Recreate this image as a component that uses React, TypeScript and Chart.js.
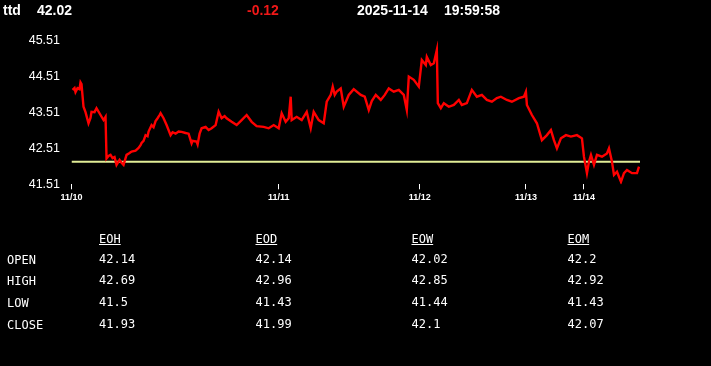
import React, { useEffect, useRef } from "react";
import { Chart, registerables } from "chart.js";

Chart.register(...registerables);

// ---- Data ----
const symbol = "ttd";
const lastPrice = "42.02";
const change = "-0.12";
const dateText = "2025-11-14";
const timeText = "19:59:58";

// bar index (time position) and price
const priceBars = [
  1, 3, 4, 6, 8, 9, 10, 12, 14, 17, 19, 20, 23, 25, 29, 32, 34, 35, 37, 39, 41, 43, 45, 48, 50, 52, 55, 58, 60, 64, 67,
  69, 70, 72, 74, 76, 77, 80, 82, 84, 86, 88, 89, 92, 95, 99, 101, 104, 107, 110, 114, 117, 120, 121, 123, 125, 126,
  128, 130, 134, 137, 140, 144, 147, 150, 153, 155, 160, 165, 170, 175, 180, 185, 192, 197, 202, 207, 210, 214, 217,
  219, 220, 225, 230, 235, 239, 242, 247, 252, 255, 259, 261, 263, 265, 269, 272, 277, 282, 289, 293, 297, 300, 304,
  309, 313, 317, 322, 327, 332, 335, 337, 342, 347, 350, 354, 355, 359, 362, 365, 366, 369, 372, 377, 382, 387, 390,
  395, 400, 405, 410, 415, 420, 425, 429, 435, 440, 447, 452, 454, 455, 460, 465, 470, 475, 479, 482, 485, 489, 494,
  499, 505, 510, 512, 515, 517, 519, 522, 525, 530, 535, 537, 540, 542, 545, 549, 552, 555, 560, 565, 567,
];
const priceValues = [
  44.14, 44.19, 44.08, 44.19, 44.16, 44.35, 44.3, 43.67, 43.52, 43.21, 43.36, 43.53, 43.52, 43.63, 43.44, 43.3, 43.39,
  42.23, 42.3, 42.33, 42.24, 42.27, 42.05, 42.19, 42.11, 42.05, 42.33, 42.38, 42.42, 42.45, 42.52, 42.6, 42.66, 42.72,
  42.88, 42.85, 42.98, 43.16, 43.1, 43.27, 43.35, 43.44, 43.49, 43.35, 43.16, 42.88, 42.96, 42.92, 42.98, 42.97, 42.94,
  42.92, 42.65, 42.72, 42.71, 42.7, 42.62, 42.92, 43.07, 43.11, 43.02, 43.07, 43.16, 43.53, 43.35, 43.41, 43.35, 43.25,
  43.16, 43.3, 43.44, 43.25, 43.13, 43.11, 43.07, 43.16, 43.07, 43.49, 43.25, 43.35, 43.95, 43.3, 43.39, 43.3, 43.53,
  43.07, 43.53, 43.3, 43.21, 43.81, 44.0, 44.23, 44.0, 44.09, 44.18, 43.67, 44.0, 44.16, 44.0, 43.95, 43.58, 43.83,
  44.0, 43.86, 44.0, 44.18, 44.09, 44.14, 44.0, 43.58, 44.51, 44.42, 44.23, 44.97, 44.83, 45.06, 44.83, 44.88, 45.25,
  43.77, 43.63, 43.77, 43.67, 43.72, 43.86, 43.72, 43.77, 44.14, 43.95, 44.0, 43.86, 43.81, 43.91, 43.95, 43.86, 43.81,
  43.91, 43.95, 44.09, 43.72, 43.44, 43.21, 42.74, 42.88, 43.02, 42.74, 42.51, 42.79, 42.88, 42.84, 42.88, 42.79, 42.28,
  41.82, 42.14, 42.33, 42.05, 42.33, 42.28, 42.37, 42.51, 42.14, 41.77, 41.86, 41.58, 41.82, 41.91, 41.82, 41.82, 42.0,
];

const referencePrice = 42.14;
const xMaxBar = 568;
const dayTickBars = [0, 207, 348, 454, 512];
const dayTickLabels = ["11/10", "11/11", "11/12", "11/13", "11/14"];
const yTickValues = [41.51, 42.51, 43.51, 44.51, 45.51];

const tableColumns = ["EOH", "EOD", "EOW", "EOM"];
const tableRows = ["OPEN", "HIGH", "LOW", "CLOSE"];
const eohValues = ["42.14", "42.69", "41.5", "41.93"];
const eodValues = ["42.14", "42.96", "41.43", "41.99"];
const eowValues = ["42.02", "42.85", "41.44", "42.1"];
const eomValues = ["42.2", "42.92", "41.43", "42.07"];

const columnValues = [eohValues, eodValues, eowValues, eomValues];

// ---- Layout ----
const columnX = [99, 255.5, 411.5, 567.5];
const rowCenters = [258.5, 280, 302, 324];
const headerRowCenter = 238.5;

const monoFont = "'DejaVu Sans Mono', 'Liberation Mono', monospace";

export default function App() {
  const canvasRef = useRef<HTMLCanvasElement | null>(null);

  useEffect(() => {
    if (!canvasRef.current) return;
    const linePoints = priceBars.map((b, i) => ({ x: b, y: priceValues[i] }));
    const refPoints = [
      { x: 0, y: referencePrice },
      { x: xMaxBar, y: referencePrice },
    ];
    const chart = new Chart(canvasRef.current, {
      type: "line",
      data: {
        datasets: [
          {
            data: linePoints,
            borderColor: "#ff0000",
            borderWidth: 2.4,
            pointRadius: 0,
            tension: 0,
          },
          {
            data: refPoints,
            borderColor: "rgb(225,236,150)",
            borderWidth: 2,
            pointRadius: 0,
            tension: 0,
          },
        ],
      },
      options: {
        animation: false,
        responsive: false,
        devicePixelRatio: 1,
        layout: { padding: { left: 0, top: 40.7, right: 71, bottom: 366 - 184.3 - 20 } },
        plugins: { legend: { display: false }, tooltip: { enabled: false } },
        scales: {
          x: {
            type: "linear",
            min: 0,
            max: xMaxBar,
            border: { display: false },
            grid: { drawOnChartArea: false, drawTicks: true, tickLength: 5, color: "#ffffff", lineWidth: 1 },
            afterBuildTicks: (scale: any) => {
              scale.ticks = dayTickBars.map((v) => ({ value: v }));
            },
            afterFit: (scale: any) => {
              scale.height = 20;
            },
            ticks: {
              autoSkip: false,
              maxRotation: 0,
              padding: 3,
              color: "#ffffff",
              font: { family: "Arial, 'Liberation Sans', sans-serif", size: 9, weight: "bold" },
              callback: (v: any) => {
                const i = dayTickBars.indexOf(Number(v));
                return i >= 0 ? dayTickLabels[i] : "";
              },
            },
          },
          y: {
            type: "linear",
            min: yTickValues[0],
            max: yTickValues[yTickValues.length - 1],
            border: { display: false },
            grid: { display: false, drawTicks: false },
            afterBuildTicks: (scale: any) => {
              scale.ticks = yTickValues.map((v) => ({ value: v }));
            },
            afterFit: (scale: any) => {
              scale.width = 71.5;
            },
            ticks: {
              padding: 11.5,
              color: "#ffffff",
              font: { family: "Arial, 'Liberation Sans', sans-serif", size: 12.5 },
              callback: (v: any) => Number(v).toFixed(2),
            },
          },
        },
      },
    });
    return () => chart.destroy();
  }, []);

  const headerStyle = (left: number, color = "#ffffff"): React.CSSProperties => ({
    position: "absolute",
    left,
    top: 2,
    lineHeight: "16px",
    fontFamily: "Arial, 'Liberation Sans', sans-serif",
    fontWeight: "bold",
    fontSize: 14,
    color,
    whiteSpace: "pre",
  });

  const cellStyle = (left: number, center: number, underline = false): React.CSSProperties => ({
    position: "absolute",
    left,
    top: center - 7,
    lineHeight: "14px",
    fontFamily: monoFont,
    fontSize: 12,
    color: "#ffffff",
    whiteSpace: "pre",
    textDecoration: underline ? "underline" : "none",
  });

  return (
    <div style={{ position: "fixed", left: 0, top: 0, width: 711, height: 366, background: "#000000", overflow: "hidden" }}>
      <canvas ref={canvasRef} width={711} height={366} style={{ position: "absolute", left: 0, top: 0, width: 711, height: 366 }} />
      <div style={headerStyle(3)}>{symbol}</div>
      <div style={headerStyle(37)}>{lastPrice}</div>
      <div style={headerStyle(247, "#f01818")}>{change}</div>
      <div style={headerStyle(357)}>{dateText}</div>
      <div style={headerStyle(444)}>{timeText}</div>
      {tableColumns.map((c, ci) => (
        <div key={"h" + c} style={cellStyle(columnX[ci], headerRowCenter, true)}>
          {c}
        </div>
      ))}
      {tableRows.map((r, ri) => (
        <div key={"r" + r} style={cellStyle(7, rowCenters[ri] + 1)}>
          {r}
        </div>
      ))}
      {columnValues.map((vals, ci) =>
        vals.map((v, ri) => (
          <div key={"v" + ci + "-" + ri} style={cellStyle(columnX[ci], rowCenters[ri])}>
            {v}
          </div>
        ))
      )}
    </div>
  );
}
